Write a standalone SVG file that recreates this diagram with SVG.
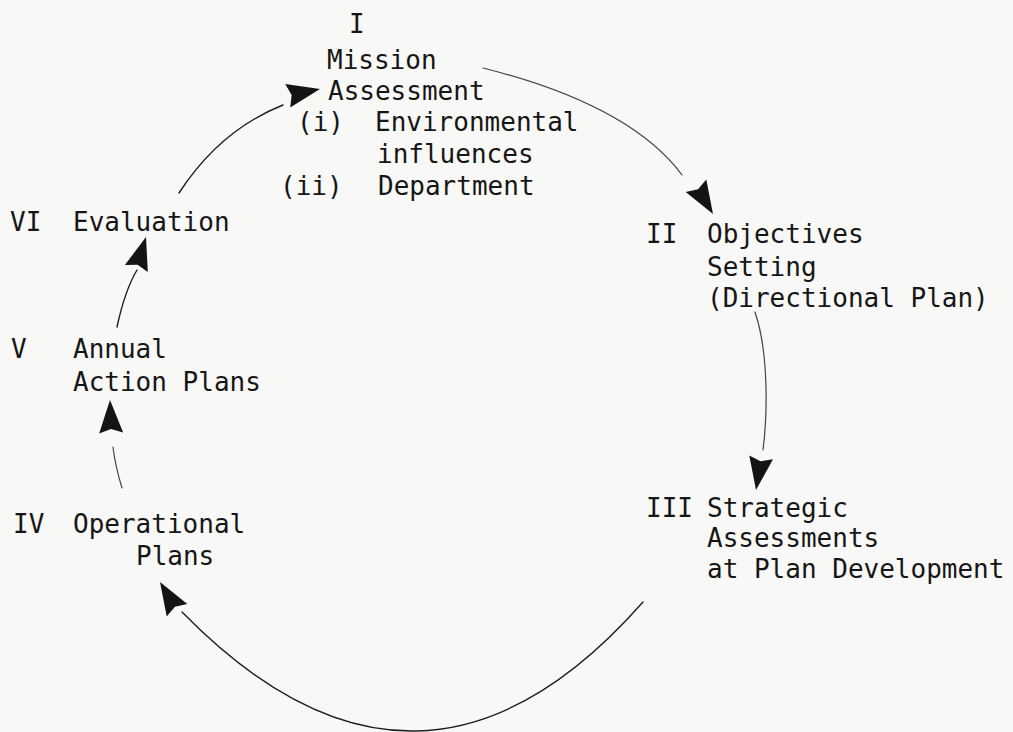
<svg xmlns="http://www.w3.org/2000/svg" xmlns:xlink="http://www.w3.org/1999/xlink" width="1013" height="732" viewBox="0 0 1013 732">
<style>
text { font-family: "DejaVu Sans Mono", "Liberation Mono", monospace; font-size: 26px; fill: #161616; }
.line { fill: none; stroke: #1e1e1e; stroke-width: 1.4; stroke-linecap: round; }
.faint { stroke: #444; stroke-width: 1.2; }
.ah { fill: #141414; }
</style>
<defs>
<path id="ah" d="M0,0 L-33,-12 L-29,0 L-33,12 Z"/>
</defs>
<rect x="0" y="0" width="1013" height="732" fill="#f8f8f6"/>
<g id="connectors">
  <path class="line faint" d="M483,68 Q630,105 682,175"/>
  <use class="ah" xlink:href="#ah" href="#ah" transform="translate(713,214) rotate(59)"/>
  <path class="line faint" d="M755,312 C768,350 768,410 763,450"/>
  <use class="ah" xlink:href="#ah" href="#ah" transform="translate(756,490) rotate(99)"/>
  <path class="line" d="M643,602 Q420,855 182,612"/>
  <use class="ah" xlink:href="#ah" href="#ah" transform="translate(160,582) rotate(239)"/>
  <path class="line faint" d="M122,488 Q115,465 113,447"/>
  <use class="ah" xlink:href="#ah" href="#ah" transform="translate(110,400) rotate(-92)"/>
  <path class="line" d="M117,327 Q125,290 137,270"/>
  <use class="ah" xlink:href="#ah" href="#ah" transform="translate(146,237) rotate(-73)"/>
  <path class="line" d="M179,193 Q220,130 283,105"/>
  <use class="ah" xlink:href="#ah" href="#ah" transform="translate(320,89) rotate(-12)"/>
</g>
<g id="node-I">
  <text x="349" y="33">I</text>
  <text x="327" y="69">Mission</text>
  <text x="328" y="100">Assessment</text>
  <text x="297" y="131">(i)</text>
  <text x="375" y="131">Environmental</text>
  <text x="377" y="163">influences</text>
  <text x="280" y="195">(ii)</text>
  <text x="378" y="195">Department</text>
</g>
<g id="node-II">
  <text x="646" y="243">II</text>
  <text x="707" y="243">Objectives</text>
  <text x="707" y="276">Setting</text>
  <text x="707" y="307">(Directional Plan)</text>
</g>
<g id="node-III">
  <text x="646" y="517">III</text>
  <text x="707" y="517">Strategic</text>
  <text x="707" y="547">Assessments</text>
  <text x="707" y="578">at Plan Development</text>
</g>
<g id="node-IV">
  <text x="13" y="533">IV</text>
  <text x="73" y="533">Operational</text>
  <text x="136" y="565">Plans</text>
</g>
<g id="node-V">
  <text x="11" y="358">V</text>
  <text x="73" y="358">Annual</text>
  <text x="73" y="391">Action Plans</text>
</g>
<g id="node-VI">
  <text x="10" y="231">VI</text>
  <text x="73" y="231">Evaluation</text>
</g>
</svg>
